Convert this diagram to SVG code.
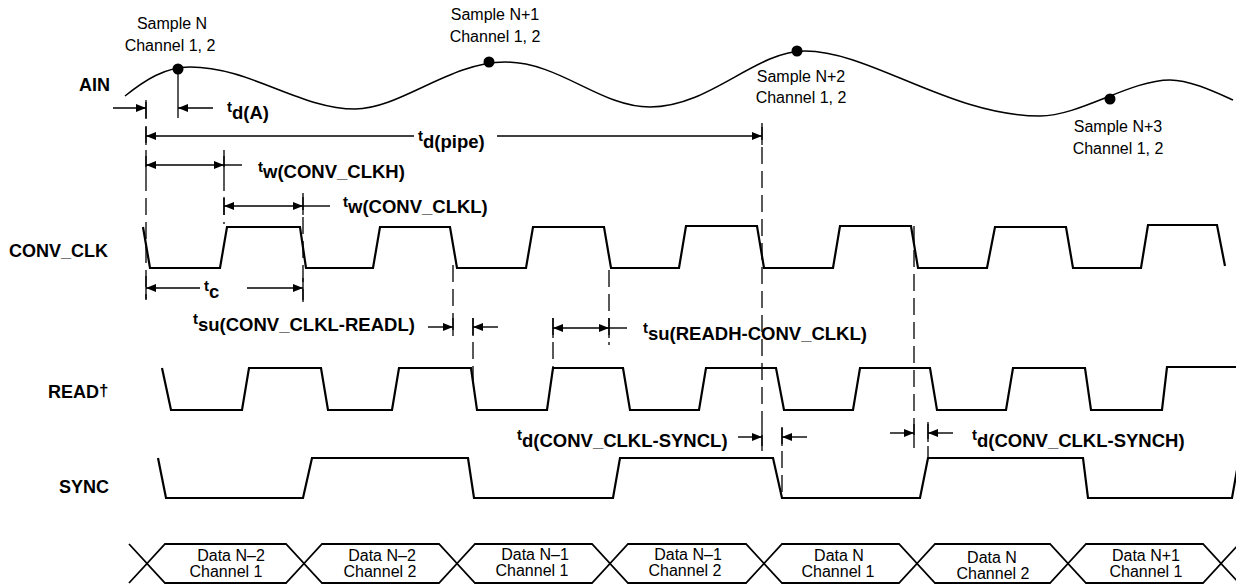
<svg xmlns="http://www.w3.org/2000/svg" width="1236" height="588" viewBox="0 0 1236 588">
<style>
.wave{fill:none;stroke:#000;stroke-width:2.2;stroke-linejoin:miter}
.ain{fill:none;stroke:#000;stroke-width:1.5}
.dim{fill:none;stroke:#000;stroke-width:1.4}
.tick{fill:none;stroke:#000;stroke-width:1.3}
.dash{fill:none;stroke:#000;stroke-width:1.3;stroke-dasharray:17 7}
.bus{fill:none;stroke:#000;stroke-width:1.8}
.sig{font-family:"Liberation Sans",Arial,sans-serif;font-weight:bold;font-size:18px}
.tl{font-family:"Liberation Sans",Arial,sans-serif;font-weight:bold}
.t{font-size:15px}
.sub{font-size:18.5px}
.lbl{font-family:"Liberation Sans",Arial,sans-serif;font-size:16px;text-anchor:middle}
</style>
<defs>
<marker id="ah" viewBox="0 0 10 8" refX="10" refY="4" markerWidth="10" markerHeight="8" markerUnits="userSpaceOnUse" orient="auto-start-reverse">
<path d="M0,0 L10,4 L0,8 z" fill="#000"/>
</marker>
</defs>
<rect width="1236" height="588" fill="#fff"/>

<g id="ain">
<text class="sig" x="79" y="91">AIN</text>
<path class="ain" d="M125,96 C145,80 165,67 190,67 C250,67 300,109 355,109 C400,109 450,62 505,62 C560,62 600,107 650,107 C710,107 755,51 805,51 C870,51 950,116 1040,116 C1080,116 1130,80 1170,80 C1190,80 1215,92 1233,100"/>
<circle cx="178" cy="69" r="5.5"/>
<circle cx="489" cy="62" r="5.5"/>
<circle cx="797" cy="51" r="5.5"/>
<circle cx="1110" cy="99" r="5.5"/>
<text class="lbl" x="172" y="29">Sample N</text>
<text class="lbl" x="170" y="51">Channel 1, 2</text>
<text class="lbl" x="495" y="20">Sample N+1</text>
<text class="lbl" x="495" y="42">Channel 1, 2</text>
<text class="lbl" x="801" y="82">Sample N+2</text>
<text class="lbl" x="801" y="103">Channel 1, 2</text>
<text class="lbl" x="1118" y="132">Sample N+3</text>
<text class="lbl" x="1118" y="154">Channel 1, 2</text>
</g>

<g id="conv_clk">
<text class="sig" x="9" y="257">CONV_CLK</text>
<polyline class="wave" points="143,227 150,268 220,268 227,227 300,227 306,268 373,268 380,227 450,227 457,268 526,268 533,227 604,227 611,268 679,268 686,226 757,226 764,268 833,268 840,226 911,226 918,268 987,268 995,227 1066,227 1073,268 1141,268 1148,225 1217,225 1225,266"/>
</g>

<g id="read">
<text class="sig" x="48" y="398">READ<tspan font-size="17" dy="-2">†</tspan></text>
<polyline class="wave" points="162,368 171,410 242,410 249,368 321,368 328,410 392,410 399,368 471,368 477,410 547,410 553,368 623,368 630,410 699,410 706,368 776,368 784,410 853,410 860,368 930,368 937,410 1006,410 1013,368 1085,368 1091,410 1162,410 1167,367 1236,367"/>
</g>

<g id="sync">
<text class="sig" x="59" y="493">SYNC</text>
<polyline class="wave" points="158,458 166,498 303,498 312,458 468,458 474,498 613,498 620,458 773,458 782,498 920,498 928,458 1083,458 1088,498 1232,498 1237,470"/>
</g>

<g id="data_bus">
<path class="bus" d="M129,544 L147,563.5 L129,583 M1239,544 L1221,563.5 L1239,583"/>
<polygon class="bus" points="147,563.5 165,544 286,544 304,563.5 286,583 165,583"/>
<polygon class="bus" points="304,563.5 322,544 439,544 457,563.5 439,583 322,583"/>
<polygon class="bus" points="457,563.5 475,544 592,544 610,563.5 592,583 475,583"/>
<polygon class="bus" points="610,563.5 628,544 746,544 764,563.5 746,583 628,583"/>
<polygon class="bus" points="764,563.5 782,544 899,544 917,563.5 899,583 782,583"/>
<polygon class="bus" points="917,563.5 935,544 1050,544 1068,563.5 1050,583 935,583"/>
<polygon class="bus" points="1068,563.5 1086,544 1203,544 1221,563.5 1203,583 1086,583"/>
<text class="lbl" x="231" y="561">Data N–2</text>
<text class="lbl" x="226" y="577">Channel 1</text>
<text class="lbl" x="382" y="561">Data N–2</text>
<text class="lbl" x="380" y="577">Channel 2</text>
<text class="lbl" x="535" y="560">Data N–1</text>
<text class="lbl" x="532" y="576">Channel 1</text>
<text class="lbl" x="688" y="560">Data N–1</text>
<text class="lbl" x="685" y="576">Channel 2</text>
<text class="lbl" x="839" y="561">Data N</text>
<text class="lbl" x="838" y="577">Channel 1</text>
<text class="lbl" x="992" y="563">Data N</text>
<text class="lbl" x="993" y="579">Channel 2</text>
<text class="lbl" x="1146" y="561">Data N+1</text>
<text class="lbl" x="1146" y="577">Channel 1</text>
</g>

<g id="connectors">
<line class="dash" x1="146" y1="102" x2="146" y2="300"/>
<line class="dash" x1="224" y1="150" x2="224" y2="224"/>
<line class="dash" x1="303" y1="193" x2="303" y2="302"/>
<line class="dash" x1="453" y1="265" x2="453" y2="337"/>
<line class="dash" x1="473" y1="318" x2="473" y2="386"/>
<line class="dash" x1="553" y1="318" x2="553" y2="370"/>
<line class="dash" x1="609" y1="270" x2="609" y2="345"/>
<line class="dash" x1="762" y1="123" x2="762" y2="451"/>
<line class="dash" x1="782" y1="427" x2="782" y2="498"/>
<line class="dash" x1="914" y1="226" x2="914" y2="448"/>
<line class="dash" x1="928" y1="422" x2="928" y2="458"/>
<line class="tick" x1="178" y1="69" x2="178" y2="118"/>
<line class="tick" x1="146" y1="100" x2="146" y2="118"/>
<line class="tick" x1="146" y1="127" x2="146" y2="145"/>
<line class="tick" x1="146" y1="156" x2="146" y2="174"/>
<line class="tick" x1="146" y1="276" x2="146" y2="299"/>
<line class="tick" x1="224" y1="156" x2="224" y2="174"/>
<line class="tick" x1="224" y1="197" x2="224" y2="215"/>
<line class="tick" x1="303" y1="197" x2="303" y2="215"/>
<line class="tick" x1="303" y1="278" x2="303" y2="300"/>
<line class="tick" x1="453" y1="318" x2="453" y2="336"/>
<line class="tick" x1="473" y1="318" x2="473" y2="336"/>
<line class="tick" x1="553" y1="318" x2="553" y2="338"/>
<line class="tick" x1="609" y1="318" x2="609" y2="338"/>
<line class="tick" x1="762" y1="127" x2="762" y2="145"/>
<line class="tick" x1="762" y1="428" x2="762" y2="446"/>
<line class="tick" x1="782" y1="428" x2="782" y2="446"/>
<line class="tick" x1="914" y1="424" x2="914" y2="442"/>
<line class="tick" x1="928" y1="424" x2="928" y2="442"/>

<line class="dim" x1="113" y1="108" x2="146" y2="108" marker-end="url(#ah)"/>
<line class="dim" x1="213" y1="108" x2="178" y2="108" marker-end="url(#ah)"/>
<line class="dim" x1="146" y1="136" x2="414" y2="136" marker-start="url(#ah)"/>
<line class="dim" x1="497" y1="136" x2="762" y2="136" marker-end="url(#ah)"/>
<line class="dim" x1="146" y1="165" x2="224" y2="165" marker-start="url(#ah)" marker-end="url(#ah)"/>
<line class="dim" x1="224" y1="165" x2="242" y2="165"/>
<line class="dim" x1="224" y1="206" x2="303" y2="206" marker-start="url(#ah)" marker-end="url(#ah)"/>
<line class="dim" x1="303" y1="206" x2="330" y2="206"/>
<line class="dim" x1="146" y1="288" x2="200" y2="288" marker-start="url(#ah)"/>
<line class="dim" x1="247" y1="288" x2="303" y2="288" marker-end="url(#ah)"/>
<line class="dim" x1="428" y1="327" x2="453" y2="327" marker-end="url(#ah)"/>
<line class="dim" x1="498" y1="327" x2="473" y2="327" marker-end="url(#ah)"/>
<line class="dim" x1="553" y1="328" x2="609" y2="328" marker-start="url(#ah)" marker-end="url(#ah)"/>
<line class="dim" x1="609" y1="328" x2="627" y2="328"/>
<line class="dim" x1="738" y1="437" x2="762" y2="437" marker-end="url(#ah)"/>
<line class="dim" x1="807" y1="437" x2="782" y2="437" marker-end="url(#ah)"/>
<line class="dim" x1="890" y1="433" x2="914" y2="433" marker-end="url(#ah)"/>
<line class="dim" x1="953" y1="433" x2="928" y2="433" marker-end="url(#ah)"/>
</g>

<g id="timing_labels">
<text class="tl" x="227" y="112"><tspan class="t">t</tspan><tspan class="sub" dy="6.5">d(A)</tspan></text>
<text class="tl" x="418" y="141"><tspan class="t">t</tspan><tspan class="sub" dy="7">d(pipe)</tspan></text>
<text class="tl" x="258" y="172"><tspan class="t">t</tspan><tspan class="sub" dy="6">w(CONV_CLKH)</tspan></text>
<text class="tl" x="343" y="207"><tspan class="t">t</tspan><tspan class="sub" dy="6">w(CONV_CLKL)</tspan></text>
<text class="tl" x="204" y="291"><tspan class="t">t</tspan><tspan class="sub" dy="7">c</tspan></text>
<text class="tl" x="193" y="324"><tspan class="t">t</tspan><tspan class="sub" dy="7">su(CONV_CLKL-READL)</tspan></text>
<text class="tl" x="643" y="333"><tspan class="t">t</tspan><tspan class="sub" dy="7">su(READH-CONV_CLKL)</tspan></text>
<text class="tl" x="517" y="440"><tspan class="t">t</tspan><tspan class="sub" dy="7">d(CONV_CLKL-SYNCL)</tspan></text>
<text class="tl" x="972" y="440"><tspan class="t">t</tspan><tspan class="sub" dy="7">d(CONV_CLKL-SYNCH)</tspan></text>
</g>
</svg>
